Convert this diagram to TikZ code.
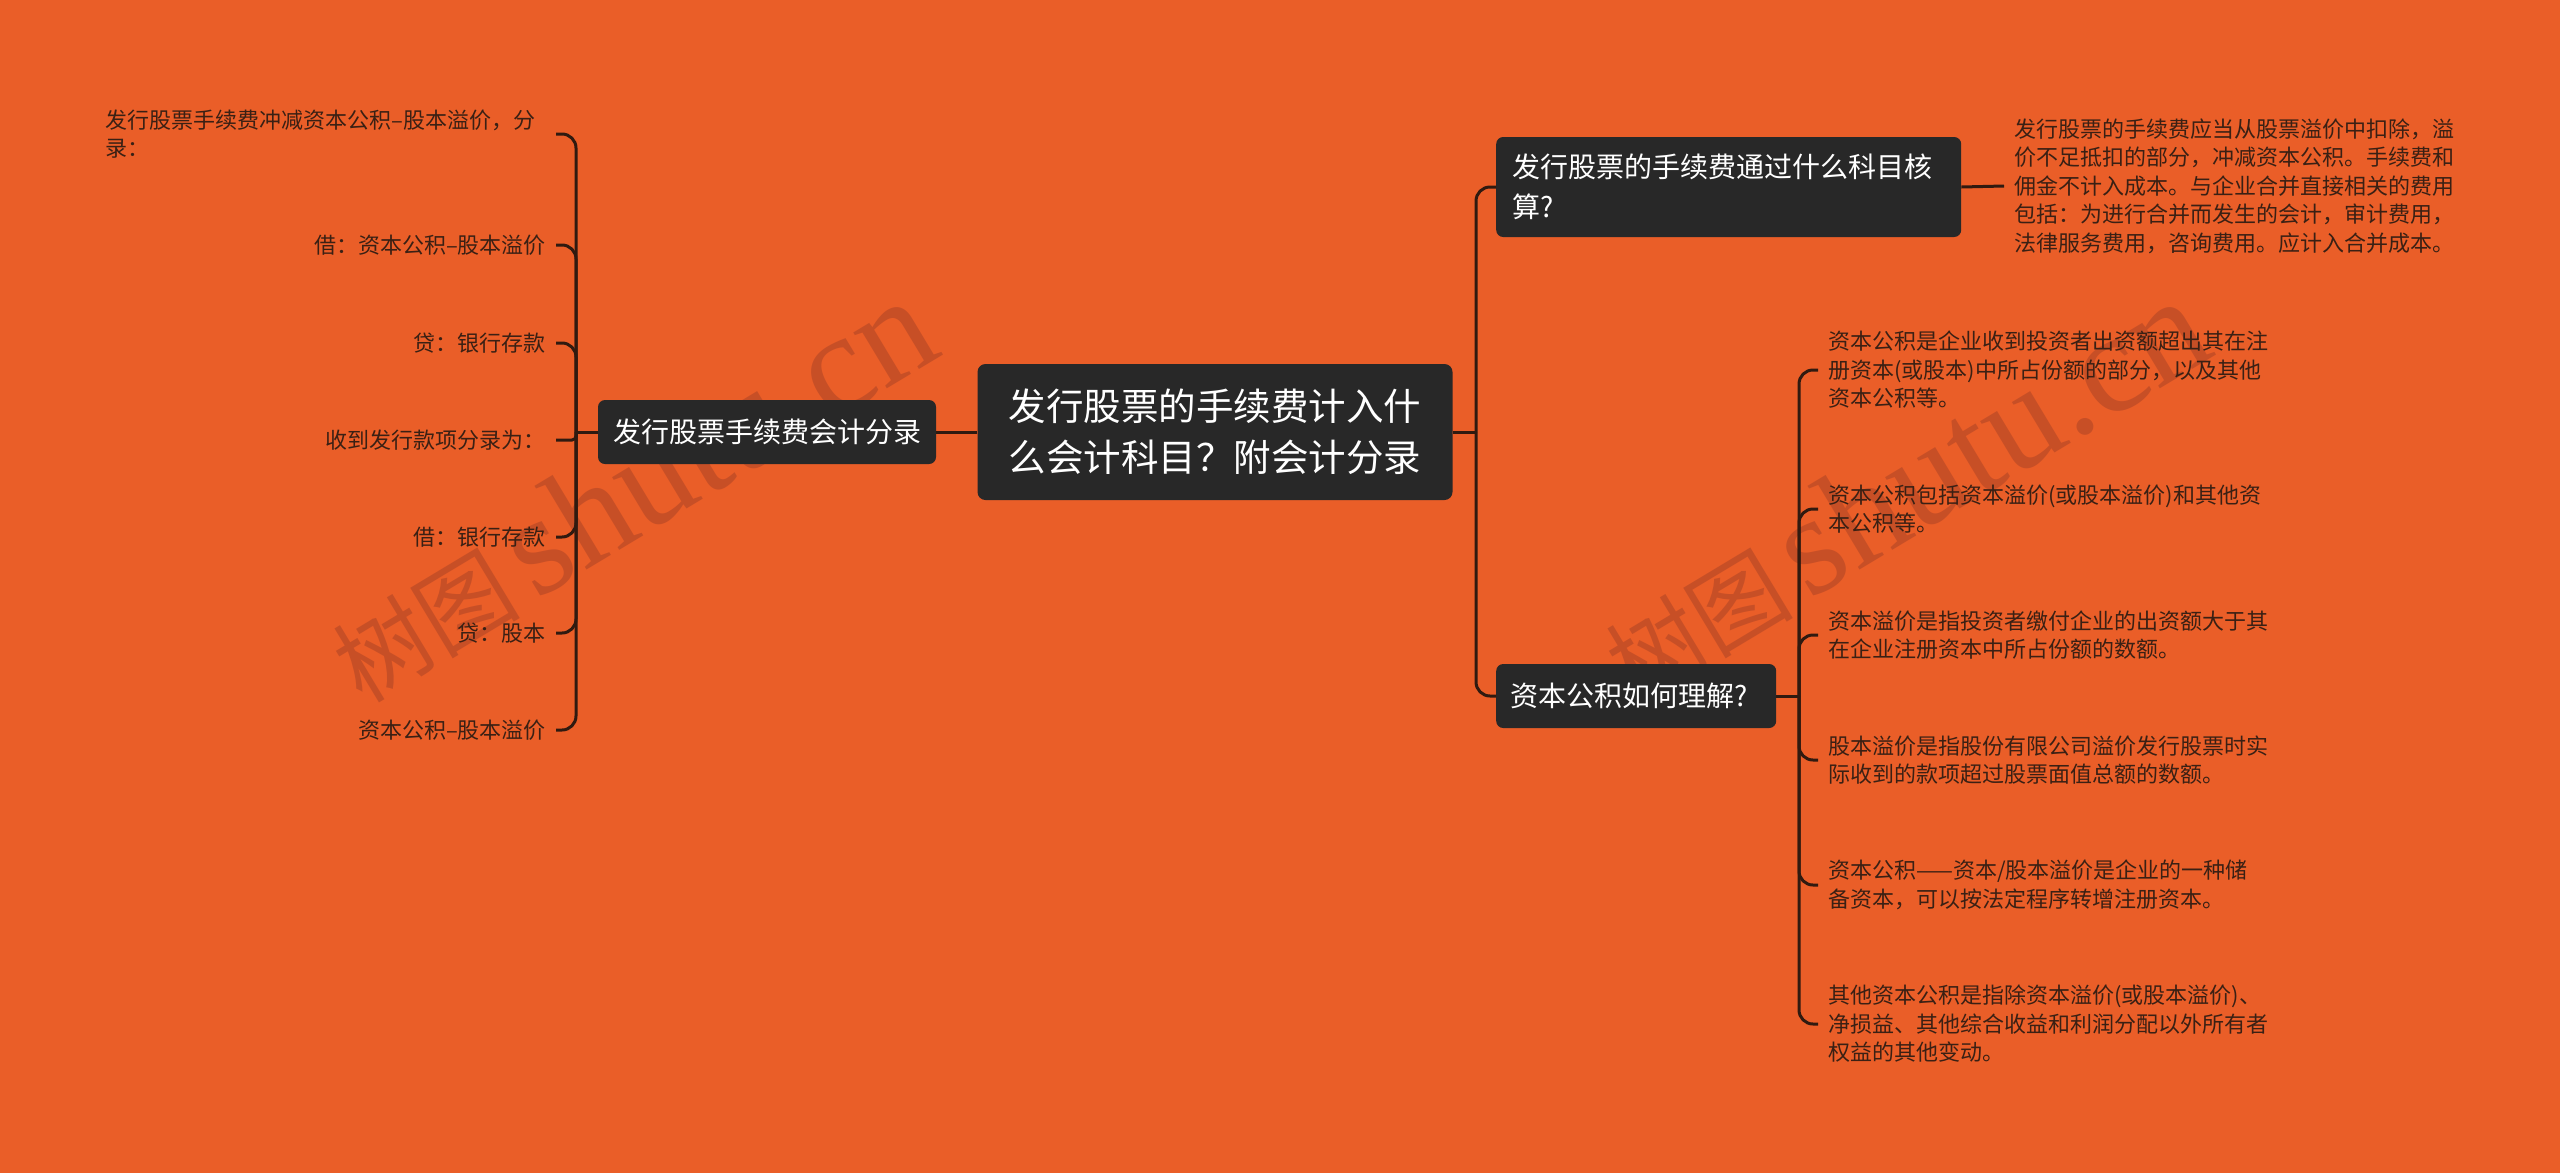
\documentclass[tikz,border=0pt]{standalone}
\usepackage{fontspec}
\setmainfont{Noto Sans CJK SC}
\newfontfamily\wmserif{Liberation Serif}
\definecolor{bg}{RGB}{234,94,40}
\definecolor{boxc}{RGB}{40,40,40}
\definecolor{linec}{RGB}{48,26,16}
\definecolor{leafc}{RGB}{58,32,20}
\definecolor{wmc}{RGB}{120,45,35}
\begin{document}
\begin{tikzpicture}[x=1pt,y=-1pt,
 conn/.style={draw=linec,line width=3pt,rounded corners=14pt},
 rootbox/.style={fill=boxc,rounded corners=8pt,text=white,font=\fontsize{37.5}{51}\selectfont,minimum width=475pt,minimum height=136pt,align=center,inner sep=0pt},
 mainbox/.style={fill=boxc,rounded corners=7pt,text=white,font=\fontsize{28}{40}\selectfont,minimum height=64pt,inner xsep=14pt,inner ysep=0pt},
 leafl/.style={text=leafc,font=\fontsize{22}{28.5}\selectfont,inner xsep=10pt,inner ysep=2pt,anchor=east,align=right},
 leafr/.style={text=leafc,font=\fontsize{22}{28.5}\selectfont,inner xsep=10pt,inner ysep=2pt,anchor=west,align=left},
 wm/.style={text=wmc,text opacity=0.3,rotate=31,inner sep=0pt,anchor=base west}]
\fill[bg] (0,0) rectangle (2560,1173);
\useasboundingbox (0,0) rectangle (2560,1173);

% watermarks (behind)
\node[wm] (wm1) at (362,705) {\fontsize{94}{94}\selectfont 树图\,{\wmserif\fontsize{142}{142}\selectfont shutu.cn}};
\node[wm] (wm2) at (1635,705) {\fontsize{94}{94}\selectfont 树图\,{\wmserif\fontsize{142}{142}\selectfont shutu.cn}};

% main nodes
\node[rootbox] (root) at (1215,432) {发行股票的手续费计入什\\么会计科目？附会计分录};
\node[mainbox,minimum width=338pt] (lm) at (767,432) {发行股票手续费会计分录};
\node[mainbox,anchor=west,inner xsep=16pt,text width=433pt,align=left,minimum height=100pt] (n1) at (1496,187) {发行股票的手续费通过什么科目核\\算?};
\node[mainbox,anchor=west,text width=252pt,align=left] (n2) at (1496,696) {资本公积如何理解?};

% left leaves
\node[leafl,align=left,text width=440pt] (l1) at (556,134) {发行股票手续费冲减资本公积–股本溢价，分\\录：};
\node[leafl] (l2) at (556,245) {借：资本公积–股本溢价};
\node[leafl] (l3) at (556,343) {贷：银行存款};
\node[leafl] (l4) at (556,440) {收到发行款项分录为：};
\node[leafl] (l5) at (556,537) {借：银行存款};
\node[leafl] (l6) at (556,633) {贷：股本};
\node[leafl] (l7) at (556,730) {资本公积–股本溢价};

% right leaves
\node[leafr] (n1t) at (2004,186) {发行股票的手续费应当从股票溢价中扣除，溢\\价不足抵扣的部分，冲减资本公积。手续费和\\佣金不计入成本。与企业合并直接相关的费用\\包括：为进行合并而发生的会计，审计费用，\\法律服务费用，咨询费用。应计入合并成本。};
\node[leafr] (r1) at (1818,370) {资本公积是企业收到投资者出资额超出其在注\\册资本(或股本)中所占份额的部分，以及其他\\资本公积等。};
\node[leafr] (r2) at (1818,509) {资本公积包括资本溢价(或股本溢价)和其他资\\本公积等。};
\node[leafr] (r3) at (1818,635) {资本溢价是指投资者缴付企业的出资额大于其\\在企业注册资本中所占份额的数额。};
\node[leafr] (r4) at (1818,760) {股本溢价是指股份有限公司溢价发行股票时实\\际收到的款项超过股票面值总额的数额。};
\node[leafr] (r5) at (1818,885) {资本公积——资本/股本溢价是企业的一种储\\备资本，可以按法定程序转增注册资本。};
\node[leafr] (r6) at (1818,1024) {其他资本公积是指除资本溢价(或股本溢价)、\\净损益、其他综合收益和利润分配以外所有者\\权益的其他变动。};

% connectors
\coordinate (lj) at (576,432);
\coordinate (rj) at (1476,432);
\coordinate (rj2) at (1799,696);
\draw[conn] (root.west) -- (lm.east);
\draw[conn] (lm.west) -- (lj);
\foreach \i in {1,2,3,5,6,7} \draw[conn] (lj) |- (l\i.east);
\draw[conn,rounded corners=4pt] (lj) |- (l4.east);
\draw[conn] (root.east) -- (rj);
\draw[conn] (rj) |- (n1.west);
\draw[conn] (rj) |- (n2.west);
\draw[conn] (n1.east) -- (n1t.west);
\draw[conn] (n2.east) -- (rj2);
\foreach \i in {1,...,6} \draw[conn] (rj2) |- (r\i.west);
\end{tikzpicture}
\end{document}
